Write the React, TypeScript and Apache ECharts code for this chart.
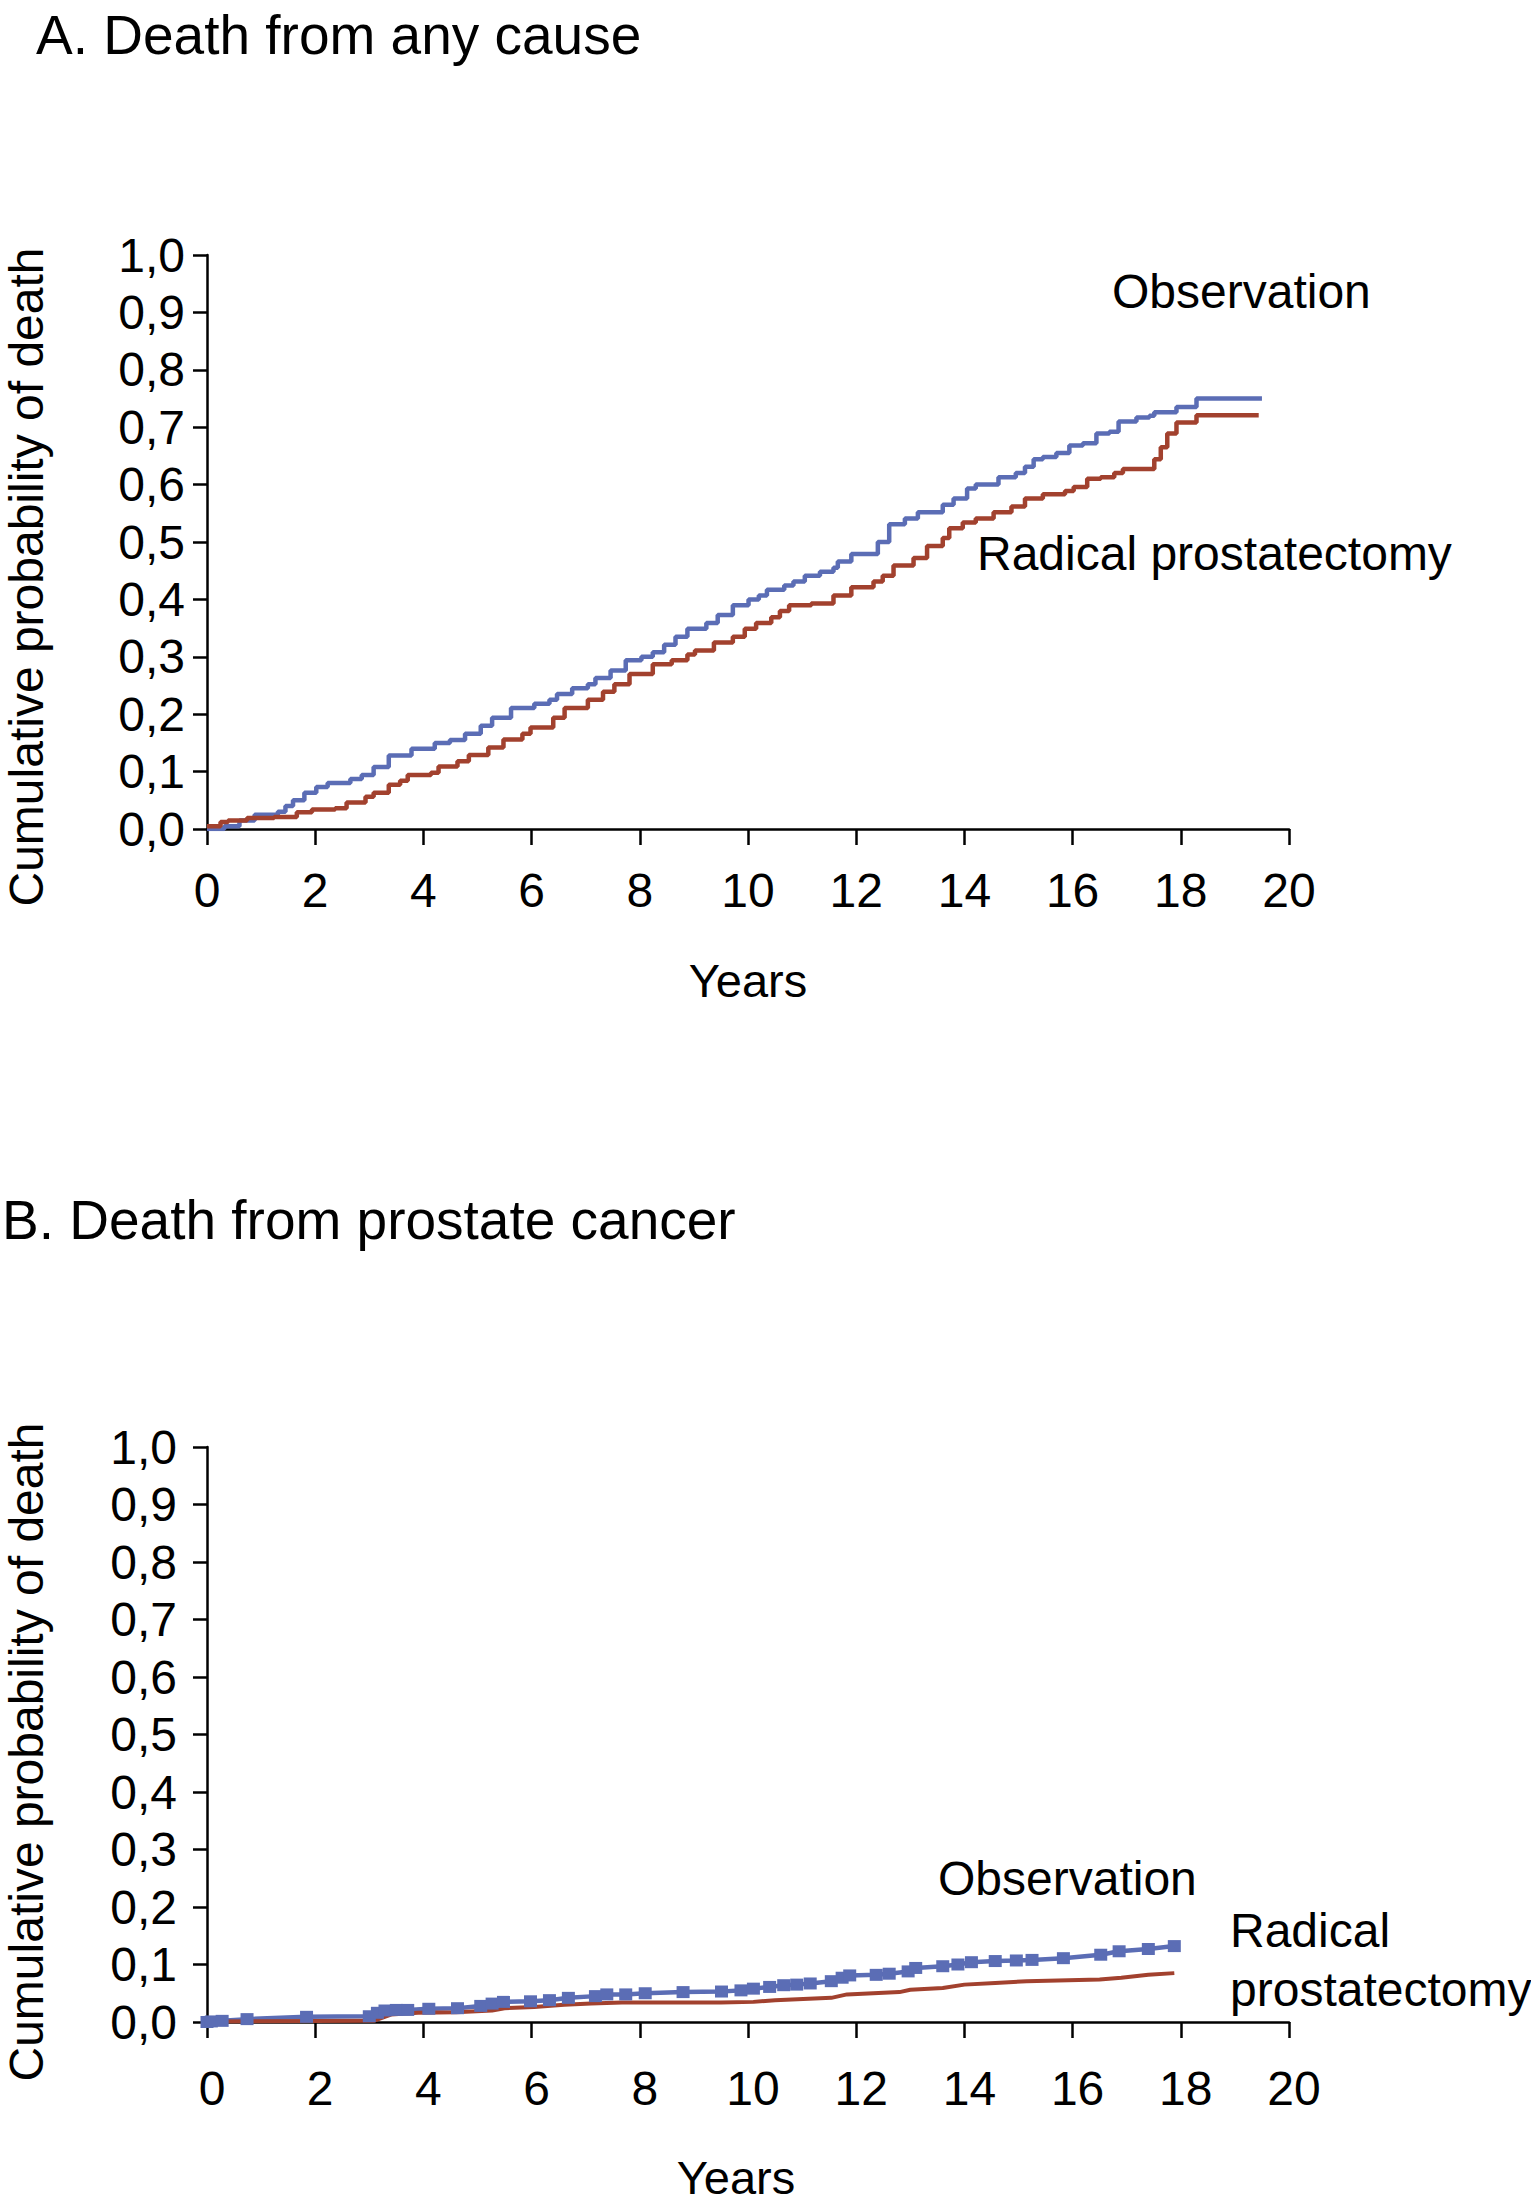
import React, { useEffect, useRef } from "react";
import * as echarts from "echarts";

// ---------- data (years, cumulative probability) ----------
const xTickLabels = ["0", "2", "4", "6", "8", "10", "12", "14", "16", "18", "20"];
const yTickLabels = ["0,0", "0,1", "0,2", "0,3", "0,4", "0,5", "0,6", "0,7", "0,8", "0,9", "1,0"];

const seriesNames = ["Observation", "Radical prostatectomy"];

// A. Death from any cause – Observation
const allCauseObservation: [number, number][] = [
  [0, 0], [0.32, 0.005], [0.6, 0.015], [0.88, 0.025], [1.31, 0.03], [1.45, 0.04],
  [1.59, 0.05], [1.8, 0.063], [2.02, 0.073], [2.23, 0.08], [2.65, 0.087], [2.86, 0.094],
  [3.08, 0.108], [3.36, 0.128], [3.78, 0.14], [4.21, 0.15], [4.49, 0.155], [4.77, 0.166],
  [5.06, 0.18], [5.27, 0.194], [5.62, 0.211], [6.05, 0.218], [6.33, 0.225], [6.47, 0.235],
  [6.75, 0.245], [7.04, 0.252], [7.18, 0.263], [7.46, 0.276], [7.74, 0.294], [8.03, 0.3],
  [8.24, 0.308], [8.45, 0.321], [8.66, 0.335], [8.88, 0.349], [9.23, 0.359], [9.44, 0.373],
  [9.72, 0.39], [10.01, 0.4], [10.2, 0.407], [10.35, 0.417], [10.67, 0.424], [10.84, 0.431],
  [11.05, 0.441], [11.33, 0.448], [11.58, 0.455], [11.66, 0.466], [11.91, 0.479], [12.4, 0.5],
  [12.61, 0.531], [12.9, 0.541], [13.14, 0.552], [13.6, 0.565], [13.8, 0.576], [14.05, 0.593],
  [14.21, 0.6], [14.63, 0.613], [14.95, 0.62], [15.12, 0.631], [15.28, 0.644], [15.45, 0.648],
  [15.7, 0.655], [15.94, 0.668], [16.19, 0.672], [16.44, 0.689], [16.68, 0.692], [16.85, 0.71],
  [17.18, 0.717], [17.42, 0.72], [17.51, 0.726], [17.92, 0.735], [18.29, 0.75], [19.5, 0.75],
];

// A. Death from any cause – Radical prostatectomy
const allCauseProstatectomy: [number, number][] = [
  [0, 0.005], [0.25, 0.012], [0.39, 0.015], [0.74, 0.019], [1.24, 0.021], [1.66, 0.029],
  [1.94, 0.034], [2.37, 0.036], [2.58, 0.046], [2.93, 0.056], [3.08, 0.063], [3.36, 0.077],
  [3.57, 0.084], [3.71, 0.094], [4.14, 0.098], [4.28, 0.109], [4.63, 0.118], [4.84, 0.129],
  [5.2, 0.142], [5.48, 0.156], [5.83, 0.166], [5.98, 0.177], [6.4, 0.194], [6.61, 0.211],
  [7.04, 0.225], [7.32, 0.239], [7.53, 0.252], [7.81, 0.27], [8.24, 0.287], [8.59, 0.294],
  [8.88, 0.304], [9.02, 0.311], [9.37, 0.325], [9.72, 0.335], [9.94, 0.349], [10.15, 0.359],
  [10.43, 0.369], [10.59, 0.38], [10.76, 0.39], [11.17, 0.393], [11.58, 0.407], [11.91, 0.421],
  [12.32, 0.431], [12.49, 0.441], [12.69, 0.459], [13.06, 0.472], [13.31, 0.493], [13.6, 0.507],
  [13.72, 0.524], [13.97, 0.534], [14.21, 0.541], [14.54, 0.552], [14.87, 0.562], [15.12, 0.576],
  [15.45, 0.583], [15.86, 0.589], [16.02, 0.596], [16.27, 0.61], [16.52, 0.613], [16.77, 0.62],
  [16.93, 0.627], [17.38, 0.627], [17.51, 0.644], [17.63, 0.665], [17.75, 0.689], [17.92, 0.708],
  [18.29, 0.721], [19.44, 0.721],
];

// B. Death from prostate cancer – Observation
const cancerObservation: [number, number][] = [
  [0, 0], [0.08, 0.001], [0.28, 0.002], [0.74, 0.005], [1.84, 0.009], [3.0, 0.01],
  [3.15, 0.016], [3.29, 0.02], [3.5, 0.021], [3.71, 0.021], [4.1, 0.023], [4.63, 0.024],
  [5.06, 0.028], [5.27, 0.032], [5.48, 0.035], [5.98, 0.036], [6.33, 0.038], [6.68, 0.042],
  [7.18, 0.045], [7.39, 0.048], [7.74, 0.048], [8.1, 0.05], [8.8, 0.052], [9.51, 0.053],
  [9.87, 0.055], [10.1, 0.058], [10.4, 0.061], [10.66, 0.064], [10.9, 0.065], [11.15, 0.067],
  [11.54, 0.071], [11.74, 0.077], [11.88, 0.081], [12.37, 0.082], [12.61, 0.084], [12.96, 0.088],
  [13.1, 0.094], [13.6, 0.097], [13.88, 0.1], [14.13, 0.104], [14.57, 0.106], [14.96, 0.107],
  [15.25, 0.108], [15.83, 0.111], [16.52, 0.117], [16.86, 0.123], [17.4, 0.127], [17.88, 0.132],
];

// B. Death from prostate cancer – Radical prostatectomy
const cancerProstatectomy: [number, number][] = [
  [0, 0.001], [3.08, 0.002], [3.4, 0.013], [3.9, 0.016], [4.6, 0.017], [5.27, 0.02],
  [5.5, 0.024], [6.05, 0.026], [6.6, 0.03], [7.1, 0.032], [7.67, 0.034], [9.5, 0.034],
  [10.1, 0.035], [10.5, 0.038], [11.54, 0.042], [11.83, 0.048], [12.8, 0.052], [13.0, 0.056],
  [13.6, 0.059], [14.0, 0.065], [14.57, 0.068], [15.15, 0.071], [16.5, 0.074], [16.9, 0.077],
  [17.4, 0.082], [17.88, 0.085],
];

const BLUE = "#5b6db5";
const RED = "#a2412e";
const FONT = '"Liberation Sans", Arial, Helvetica, sans-serif';

function makeXAxis(gridIndex: number, labelMargin: number, labelPadLeft: number, nameGap: number, namePad: number[]) {
  return {
    type: "value",
    gridIndex,
    min: 0,
    max: 20,
    interval: 2,
    name: "Years",
    nameLocation: "middle",
    nameGap,
    nameTextStyle: { fontFamily: FONT, fontSize: 47, color: "#000", padding: namePad },
    axisLine: { show: true, onZero: false, lineStyle: { color: "#000", width: 2.5 } },
    axisTick: { show: true, inside: false, length: 16, lineStyle: { color: "#000", width: 2.5 } },
    splitLine: { show: false },
    axisLabel: {
      margin: labelMargin,
      fontFamily: FONT,
      fontSize: 48,
      color: "#000",
      padding: [0, 0, 0, labelPadLeft],
      formatter: (v: number) => xTickLabels[Math.round(v / 2)],
    },
  };
}

function makeYAxis(gridIndex: number, labelMargin: number) {
  return {
    type: "value",
    gridIndex,
    min: 0,
    max: 1,
    interval: 0.1,
    axisLine: { show: true, onZero: false, lineStyle: { color: "#000", width: 2.5 } },
    axisTick: { show: true, inside: false, length: 14, lineStyle: { color: "#000", width: 2.5 } },
    splitLine: { show: false },
    axisLabel: {
      margin: labelMargin,
      fontFamily: FONT,
      fontSize: 48,
      color: "#000",
      formatter: (v: number) => yTickLabels[Math.round(v * 10)],
    },
  };
}

function txt(text: string, x: number, y: number, size: number, align = "left", rotation = 0) {
  return {
    type: "text",
    x,
    y,
    rotation,
    silent: true,
    style: {
      text,
      fill: "#000",
      fontFamily: FONT,
      fontSize: size,
      align,
      verticalAlign: "middle",
      textAlign: align,
      textVerticalAlign: "middle",
    },
  };
}

export default function App() {
  const ref = useRef<HTMLDivElement>(null);

  useEffect(() => {
    if (!ref.current) return;
    const chart = echarts.init(ref.current, undefined, { renderer: "svg" });
    chart.setOption({
      animation: false,
      backgroundColor: "#fff",
      grid: [
        { left: 207, top: 255, width: 1082, height: 574, containLabel: false },
        { left: 207, top: 1447, width: 1082, height: 575, containLabel: false },
      ],
      xAxis: [
        makeXAxis(0, 37, 0, 128, [0, 0, 0, 0]),
        makeXAxis(1, 42, 10, 132, [0, 24, 0, 0]),
      ],
      yAxis: [makeYAxis(0, 22), makeYAxis(1, 30)],
      series: [
        {
          name: seriesNames[0],
          type: "line",
          xAxisIndex: 0,
          yAxisIndex: 0,
          data: allCauseObservation,
          step: "end",
          symbol: "none",
          lineStyle: { color: BLUE, width: 4.5 },
          itemStyle: { color: BLUE },
        },
        {
          name: seriesNames[1],
          type: "line",
          xAxisIndex: 0,
          yAxisIndex: 0,
          data: allCauseProstatectomy,
          step: "end",
          symbol: "none",
          lineStyle: { color: RED, width: 4.5 },
          itemStyle: { color: RED },
        },
        {
          name: seriesNames[0],
          type: "line",
          xAxisIndex: 1,
          yAxisIndex: 1,
          data: cancerObservation,
          symbol: "rect",
          symbolSize: [13, 12],
          showSymbol: true,
          lineStyle: { color: BLUE, width: 4.5 },
          itemStyle: { color: BLUE },
        },
        {
          name: seriesNames[1],
          type: "line",
          xAxisIndex: 1,
          yAxisIndex: 1,
          data: cancerProstatectomy,
          symbol: "none",
          lineStyle: { color: RED, width: 4 },
          itemStyle: { color: RED },
        },
      ],
      graphic: [
        txt("A. Death from any cause", 36, 35, 55),
        txt("B. Death from prostate cancer", 2, 1220, 55),
        txt("Cumulative probability of death", 26, 577, 48, "center", Math.PI / 2),
        txt("Cumulative probability of death", 26, 1752, 48, "center", Math.PI / 2),
        txt("Observation", 1112, 291, 48),
        txt("Radical prostatectomy", 977, 553, 48),
        txt("Observation", 938, 1878, 48),
        txt("Radical", 1230, 1930, 48),
        txt("prostatectomy", 1230, 1989, 48),
      ],
    });
    return () => chart.dispose();
  }, []);

  return (
    <div
      ref={ref}
      style={{ position: "absolute", left: 0, top: 0, width: 1531, height: 2208, background: "#fff" }}
    />
  );
}
